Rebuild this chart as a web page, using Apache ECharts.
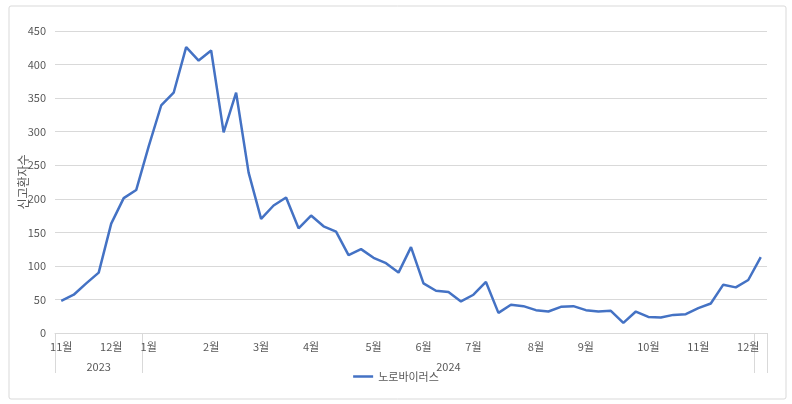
<!DOCTYPE html>
<html>
<head>
<meta charset="utf-8">
<script src="https://cdn.jsdelivr.net/npm/echarts@6/dist/echarts.min.js"></script>
<style>
html,body{margin:0;padding:0;background:#fff;}
#c{width:792px;height:404px;}
</style>
</head>
<body>
<div id="c"></div>
<script>
// Weekly norovirus reported patients, Nov 2023 – Dec 2024
const seriesName = '노로바이러스';
const yAxisName = '신고환자수';
const patients = [48, 57, 74, 90, 163, 201, 213, 278, 339, 358, 426, 406, 421, 299, 358, 239,
  170, 190, 202, 156, 175, 159, 151, 116, 125, 112, 104, 90, 128, 74, 63, 61, 47, 57, 76, 30,
  42, 40, 34, 32, 39, 40, 34, 32, 33, 15, 32, 24, 23, 27, 28, 37, 44, 72, 68, 79, 113];
const monthLabels = ['11월','12월','1월','2월','3월','4월','5월','6월','7월','8월','9월','10월','11월','12월',''];
const weeksPerMonth = [4,3,5,4,4,5,4,4,5,4,5,4,4,1,1];
const yearLabels = ['2023','2024',''];
const weeksPerYear = [7,49,1];
const yTicks = {min:0, max:450, interval:50};

// build per-category lookup
const categories = [];
const monthAt = [];
monthLabels.forEach((m, mi) => {
  for (let w = 0; w < weeksPerMonth[mi]; w++) {
    monthAt.push(w === 0 ? m : '');
    categories.push('c' + categories.length);
  }
});
const yearAt = new Array(categories.length).fill('');
const groupStarts = [];
let pos = 0;
yearLabels.forEach((y, yi) => {
  groupStarts.push(pos);
  yearAt[pos + Math.floor((weeksPerYear[yi] - 1) / 2)] = y;
  pos += weeksPerYear[yi];
});

const font = '"Noto Sans CJK KR", "Noto Sans", sans-serif';
const txt = '#595959';
const chart = echarts.init(document.getElementById('c'));
chart.setOption({
  animation: false,
  backgroundColor: '#fff',
  textStyle: {fontFamily: font},
  graphic: [{
    type: 'rect', left: 6.5, top: 3.5, silent: true,
    shape: {width: 777, height: 393, r: 2},
    style: {fill: 'none', stroke: '#d9d9d9', lineWidth: 1}
  }],
  grid: {left: 55, right: 25, top: 31, bottom: 71, containLabel: false, outerBoundsMode: 'none'},
  xAxis: [{
    type: 'category',
    data: categories,
    boundaryGap: true,
    axisLine: {show: true, lineStyle: {color: '#d9d9d9'}},
    axisTick: {
      show: true, length: 40, inside: false,
      interval: (i) => groupStarts.indexOf(i) >= 0,
      lineStyle: {color: '#d9d9d9'}
    },
    axisLabel: {
      interval: 0, margin: 8, color: txt, fontSize: 11, fontFamily: font,
      formatter: (v, i) => monthAt[i]
    },
    splitLine: {show: false}
  }, {
    type: 'category',
    data: categories,
    position: 'bottom',
    offset: 0,
    boundaryGap: true,
    axisLine: {show: false},
    axisTick: {show: false},
    axisLabel: {
      interval: 0, margin: 28, color: txt, fontSize: 11, fontFamily: font,
      formatter: (v, i) => yearAt[i]
    },
    splitLine: {show: false}
  }],
  yAxis: {
    type: 'value',
    min: yTicks.min, max: yTicks.max, interval: yTicks.interval,
    name: yAxisName,
    nameLocation: 'middle',
    nameGap: 26,
    nameMoveOverlap: false,
    nameTextStyle: {color: txt, fontSize: 12, fontFamily: font},
    axisLine: {show: false},
    axisTick: {show: false},
    axisLabel: {color: txt, fontSize: 11, margin: 9, fontFamily: font},
    splitLine: {lineStyle: {color: '#d9d9d9', width: 1}}
  },
  legend: {
    bottom: 17, left: 'center',
    icon: 'rect',
    itemWidth: 20, itemHeight: 2.5, itemGap: 10,
    textStyle: {color: txt, fontSize: 11, fontFamily: font},
    data: [seriesName]
  },
  series: [{
    name: seriesName,
    type: 'line',
    data: patients,
    xAxisIndex: 0,
    symbol: 'none',
    showSymbol: false,
    lineStyle: {color: '#4472C4', width: 2.5},
    itemStyle: {color: '#4472C4'}
  }]
});
</script>
</body>
</html>
